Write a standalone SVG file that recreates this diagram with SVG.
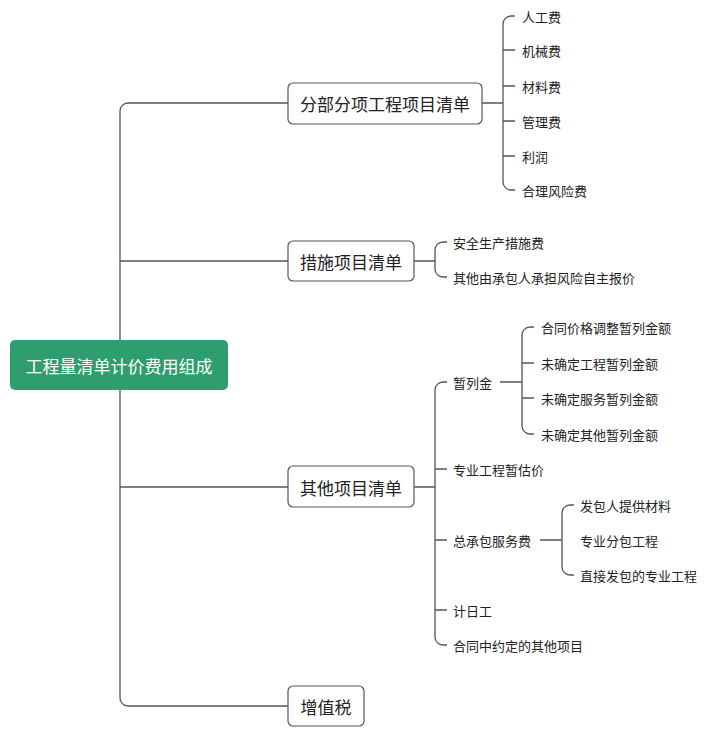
<svg xmlns="http://www.w3.org/2000/svg" width="711" height="735" viewBox="0 0 711 735">
<style>
.ln{fill:none;stroke:#555;stroke-width:1.3}
.nd{fill:#fff;stroke:#555;stroke-width:1.2}
.nt{font-family:"Noto Sans CJK SC",sans-serif;font-size:17px;fill:#222;dominant-baseline:central}
.ct{font-family:"Noto Sans CJK SC",sans-serif;font-size:13px;fill:#222;dominant-baseline:central}
</style>
<rect width="711" height="735" fill="#fff"/>
<g id="connectors">
<path class="ln" d="M288 103H128a8 8 0 0 0-8 8V698a8 8 0 0 0 8 8H288M120 261H288M120 487H288"/>
<path class="ln" d="M482 103H503M515 16H511a8 8 0 0 0-8 8V182a8 8 0 0 0 8 8H515M503 50H515M503 86H515M503 121H515M503 156H515"/>
<path class="ln" d="M414 261H435M447 242H443a8 8 0 0 0-8 8V269a8 8 0 0 0 8 8H447"/>
<path class="ln" d="M414 487H435M447 382H443a8 8 0 0 0-8 8V637a8 8 0 0 0 8 8H447M435 469H447M435 540H447M435 610H447"/>
<path class="ln" d="M500 382H522M534 327H530a8 8 0 0 0-8 8V426a8 8 0 0 0 8 8H534M522 363H534M522 398H534"/>
<path class="ln" d="M540 540H562M574 505H570a8 8 0 0 0-8 8V567a8 8 0 0 0 8 8H574"/>
</g>
<g id="root"><rect x="10" y="340" width="218" height="50" rx="5" fill="#2e9e6e"/><text x="119" y="365" text-anchor="middle" style="font-family:'Noto Sans CJK SC',sans-serif;font-size:17px;fill:#fff;dominant-baseline:central">工程量清单计价费用组成</text></g>
<g id="n1"><rect class="nd" x="288" y="83" width="194" height="41" rx="5"/><text class="nt" x="385" y="103.5" text-anchor="middle">分部分项工程项目清单</text></g>
<g id="n2"><rect class="nd" x="288" y="241" width="126" height="40" rx="5"/><text class="nt" x="351" y="261" text-anchor="middle">措施项目清单</text></g>
<g id="n3"><rect class="nd" x="288" y="466" width="126" height="41" rx="5"/><text class="nt" x="351" y="487" text-anchor="middle">其他项目清单</text></g>
<g id="n4"><rect class="nd" x="288" y="686" width="76" height="40" rx="5"/><text class="nt" x="326" y="706" text-anchor="middle">增值税</text></g>
<g id="leaves">
<text class="ct" x="522" y="16">人工费</text>
<text class="ct" x="522" y="50">机械费</text>
<text class="ct" x="522" y="86">材料费</text>
<text class="ct" x="522" y="121">管理费</text>
<text class="ct" x="522" y="156">利润</text>
<text class="ct" x="522" y="190">合理风险费</text>
<text class="ct" x="453" y="242">安全生产措施费</text>
<text class="ct" x="453" y="277">其他由承包人承担风险自主报价</text>
<text class="ct" x="453" y="382">暂列金</text>
<text class="ct" x="453" y="469">专业工程暂估价</text>
<text class="ct" x="453" y="540">总承包服务费</text>
<text class="ct" x="453" y="610">计日工</text>
<text class="ct" x="453" y="645">合同中约定的其他项目</text>
<text class="ct" x="541" y="327">合同价格调整暂列金额</text>
<text class="ct" x="541" y="363">未确定工程暂列金额</text>
<text class="ct" x="541" y="398">未确定服务暂列金额</text>
<text class="ct" x="541" y="434">未确定其他暂列金额</text>
<text class="ct" x="580" y="505">发包人提供材料</text>
<text class="ct" x="580" y="540">专业分包工程</text>
<text class="ct" x="580" y="575">直接发包的专业工程</text>
</g>
</svg>
